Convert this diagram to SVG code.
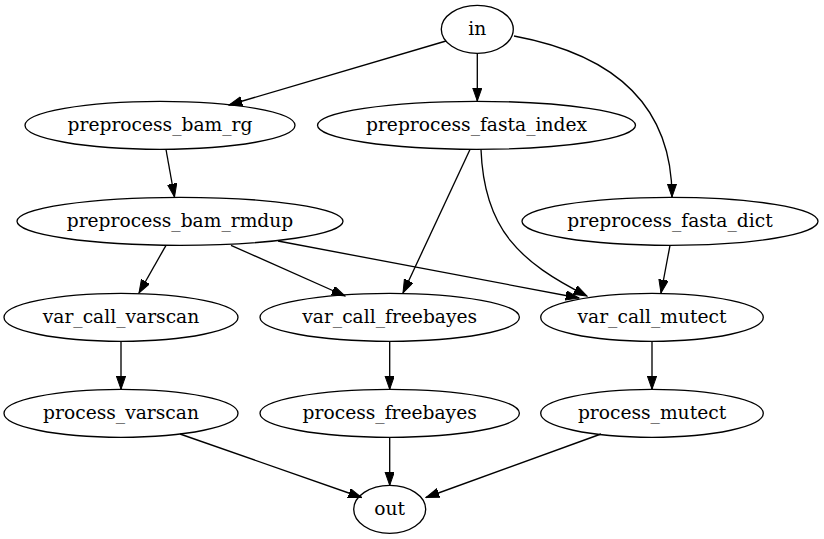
<svg xmlns="http://www.w3.org/2000/svg" width="824" height="539" viewBox="0 0 824 539">
<style>
.n ellipse{fill:none;stroke:#000;stroke-width:1.33}
.n text{font-family:"DejaVu Serif",serif;font-size:18.67px;text-anchor:middle;fill:#000}
#edges path{fill:none;stroke:#000;stroke-width:1.33;marker-end:url(#ah)}
</style>
<defs>
<marker id="ah" markerUnits="userSpaceOnUse" markerWidth="14" markerHeight="10" refX="13.3" refY="4.67" orient="auto">
<path d="M0,0 L13.3,4.67 L0,9.33 z" fill="#000" stroke="#000" stroke-width="1"/>
</marker>
</defs>
<rect width="824" height="539" fill="#fff"/>
<g id="edges">
<path d="M446,41 L229,105"/>
<path d="M477.3,53.3 L477.3,101"/>
<path d="M514,36 C600,52 672,95 672,197"/>
<path d="M166,149.5 L174.5,197"/>
<path d="M470,149.5 L403,293"/>
<path d="M481,149.5 C484,230 520,262 587,296"/>
<path d="M166,245.3 L139,293"/>
<path d="M231,245.3 L345,296"/>
<path d="M278,241 L579,298"/>
<path d="M670,245.3 L661,293"/>
<path d="M121,341.3 L121,389.3"/>
<path d="M389.7,341.3 L389.7,389.3"/>
<path d="M652,341.3 L652,389.3"/>
<path d="M180,434 L361.6,497.5"/>
<path d="M389.7,437.3 L389.7,485.3"/>
<path d="M601,434 L426,497.5"/>
</g>
<g id="in" class="n"><ellipse cx="477.3" cy="29.3" rx="36" ry="24"/><text x="477.3" y="34.8">in</text></g>
<g id="preprocess_bam_rg" class="n"><ellipse cx="160" cy="125.3" rx="135" ry="24"/><text x="160" y="130.8">preprocess_bam_rg</text></g>
<g id="preprocess_fasta_index" class="n"><ellipse cx="476.5" cy="125.3" rx="159" ry="24"/><text x="476.5" y="130.8">preprocess_fasta_index</text></g>
<g id="preprocess_bam_rmdup" class="n"><ellipse cx="180" cy="221.3" rx="163" ry="24"/><text x="180" y="226.8">preprocess_bam_rmdup</text></g>
<g id="preprocess_fasta_dict" class="n"><ellipse cx="670" cy="221.3" rx="148" ry="24"/><text x="670" y="226.8">preprocess_fasta_dict</text></g>
<g id="var_call_varscan" class="n"><ellipse cx="121" cy="317.3" rx="117" ry="24"/><text x="121" y="322.8">var_call_varscan</text></g>
<g id="var_call_freebayes" class="n"><ellipse cx="389.7" cy="317.3" rx="129.7" ry="24"/><text x="389.7" y="322.8">var_call_freebayes</text></g>
<g id="var_call_mutect" class="n"><ellipse cx="652" cy="317.3" rx="111.3" ry="24"/><text x="652" y="322.8">var_call_mutect</text></g>
<g id="process_varscan" class="n"><ellipse cx="121" cy="413.3" rx="117" ry="24"/><text x="121" y="418.8">process_varscan</text></g>
<g id="process_freebayes" class="n"><ellipse cx="389.7" cy="413.3" rx="129.7" ry="24"/><text x="389.7" y="418.8">process_freebayes</text></g>
<g id="process_mutect" class="n"><ellipse cx="652" cy="413.3" rx="111.3" ry="24"/><text x="652" y="418.8">process_mutect</text></g>
<g id="out" class="n"><ellipse cx="389.7" cy="509.3" rx="36" ry="24"/><text x="389.7" y="514.8">out</text></g>
</svg>
